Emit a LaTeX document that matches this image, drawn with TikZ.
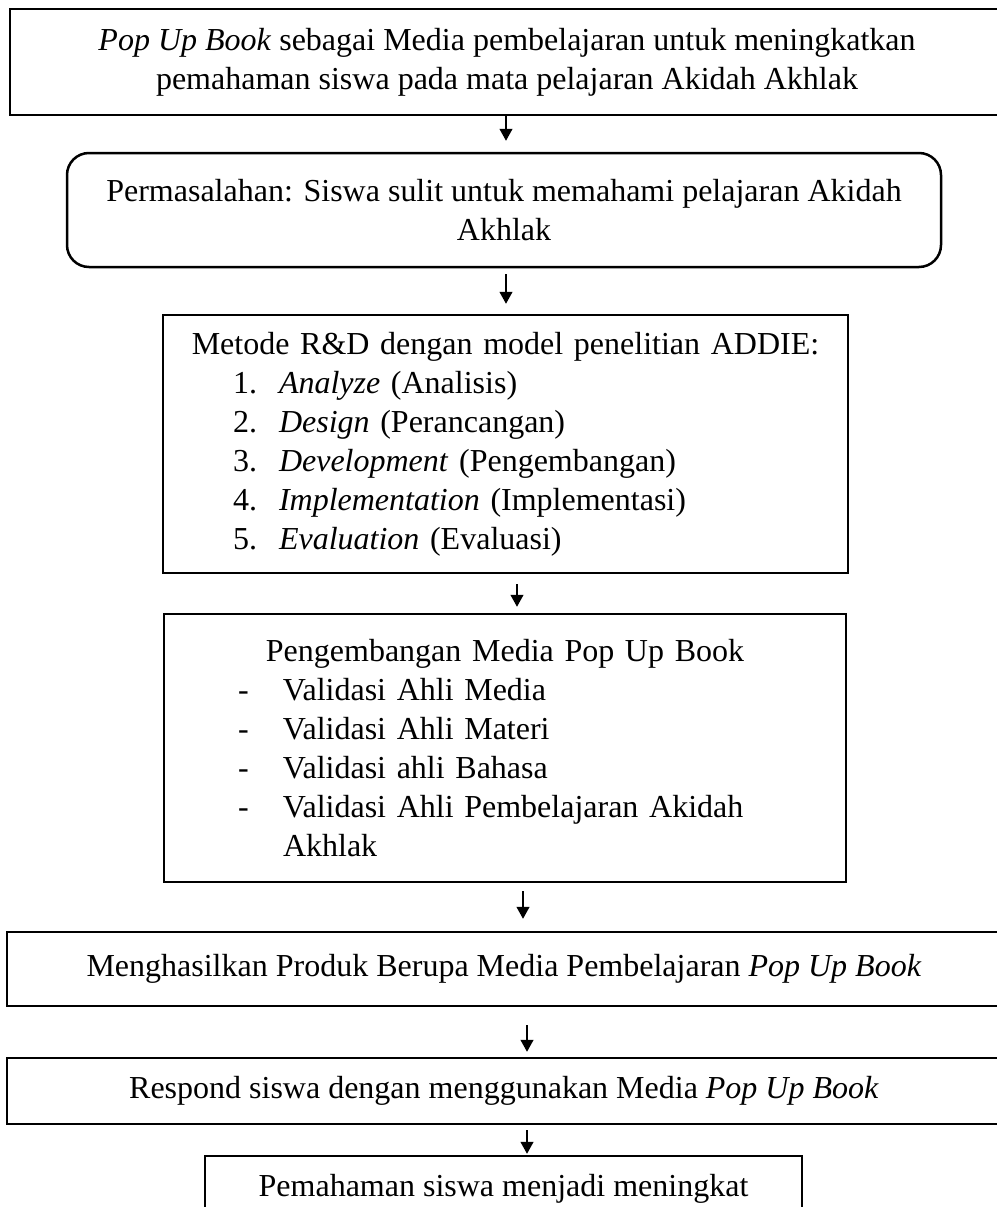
\documentclass[tikz,border=0pt]{standalone}
\usepackage{fontspec}
\setmainfont{Liberation Serif}
\usepackage{tikz}
\usetikzlibrary{arrows.meta,positioning}

\tikzset{
  box/.style={draw, line width=2.5pt, font=\fontsize{32}{39}\selectfont, inner sep=0pt, align=center},
  listbox/.style={box, align=left},
  flow/.style={-{Triangle[length=12pt,width=13pt]}, line width=1.2pt},
}

\begin{document}
\begin{tikzpicture}[x=1pt,y=-1pt]
    \useasboundingbox (0,0) rectangle (996,1207);
    % boxes, top to bottom
    \node[box, minimum width=994pt, minimum height=106pt] (popup) at (507,62)
        {\textit{Pop Up Book} sebagai Media pembelajaran untuk meningkatkan\\pemahaman siswa pada mata pelajaran Akidah Akhlak};
    \node[box, rounded corners=22pt, minimum width=874pt, minimum height=114pt] (masalah) at (504,210)
        {Permasalahan: Siswa sulit untuk memahami pelajaran Akidah\\Akhlak};
    \node[listbox, text width=685pt, minimum height=258pt] (metode) at (505.5,444)
        {\makebox[685pt]{Metode R\&D dengan model penelitian ADDIE:}\\
         \hspace*{70pt}\makebox[46pt][l]{1.}\textit{Analyze} (Analisis)\\
         \hspace*{70pt}\makebox[46pt][l]{2.}\textit{Design} (Perancangan)\\
         \hspace*{70pt}\makebox[46pt][l]{3.}\textit{Development} (Pengembangan)\\
         \hspace*{70pt}\makebox[46pt][l]{4.}\textit{Implementation} (Implementasi)\\
         \hspace*{70pt}\makebox[46pt][l]{5.}\textit{Evaluation} (Evaluasi)};
    \node[listbox, text width=682pt, minimum height=268pt] (validasi) at (505,748)
        {\makebox[682pt]{Pengembangan Media Pop Up Book}\\
         \hspace*{74pt}\makebox[45pt][l]{-}Validasi Ahli Media\\
         \hspace*{74pt}\makebox[45pt][l]{-}Validasi Ahli Materi\\
         \hspace*{74pt}\makebox[45pt][l]{-}Validasi ahli Bahasa\\
         \hspace*{74pt}\makebox[45pt][l]{-}Validasi Ahli Pembelajaran Akidah\\
         \hspace*{119pt}Akhlak};
    \node[box, minimum width=1000pt, minimum height=74pt] (produk) at (507,969)
        {\hspace*{-6pt}Menghasilkan Produk Berupa Media Pembelajaran \textit{Pop Up Book}};
    \node[box, minimum width=1000pt, minimum height=66pt] (respon) at (507,1091)
        {\hspace*{-6pt}Respond siswa dengan menggunakan Media \textit{Pop Up Book}};
    \node[box, minimum width=597pt, minimum height=66pt] (hasil) at (503.5,1189)
        {Pemahaman siswa menjadi meningkat};
    % arrows
    \draw[flow, shorten >=11pt] ([xshift=-1pt]popup.south) -- ([xshift=-1pt]popup.south |- masalah.north);
    \draw[flow, shorten <=6pt, shorten >=10pt] ([xshift=2pt]masalah.south) -- ([xshift=2pt]masalah.south |- metode.north);
    \draw[flow, shorten <=10pt, shorten >=6pt] ([xshift=11.5pt]metode.south) -- ([xshift=11.5pt]metode.south |- validasi.north);
    \draw[flow, shorten <=8pt, shorten >=12pt] ([xshift=18pt]validasi.south) -- ([xshift=18pt]validasi.south |- produk.north);
    \draw[flow, shorten <=18pt, shorten >=5pt] ([xshift=20pt]produk.south) -- ([xshift=20pt]produk.south |- respon.north);
    \draw[flow, shorten <=5pt, shorten >=1pt] ([xshift=20pt]respon.south) -- ([xshift=20pt]respon.south |- hasil.north);
\end{tikzpicture}
\end{document}
